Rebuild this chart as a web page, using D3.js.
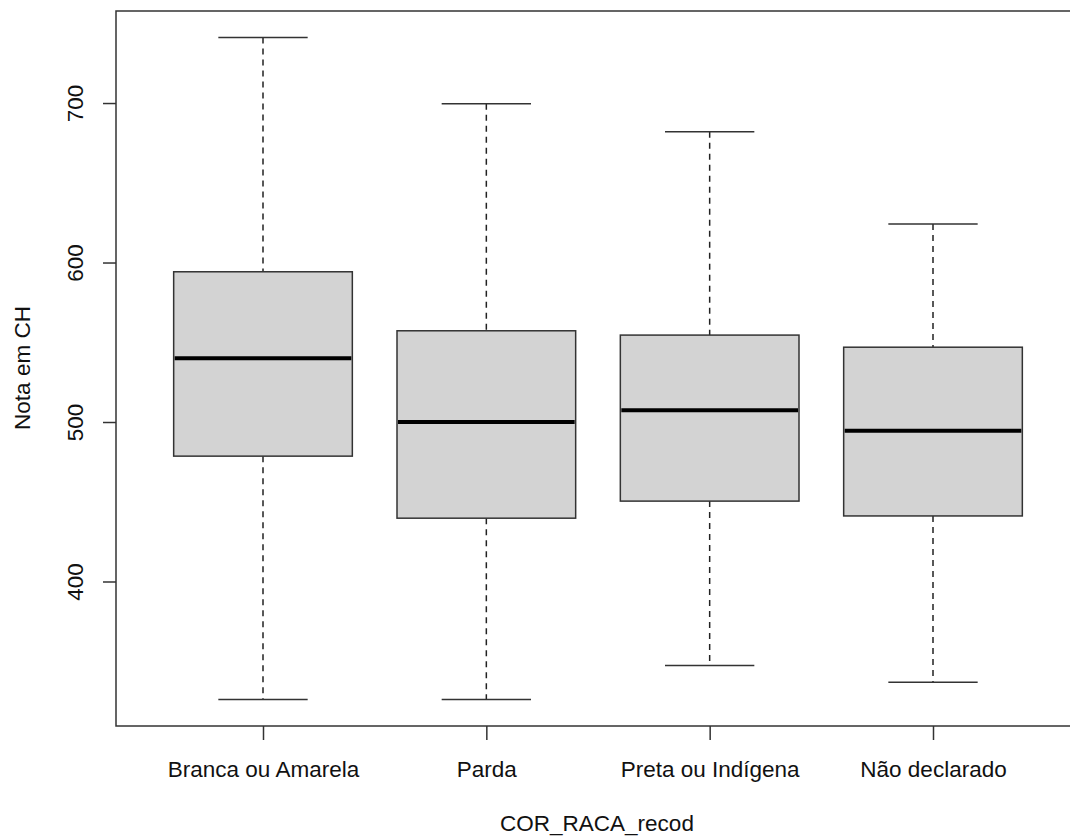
<!DOCTYPE html>
<html>
<head>
<meta charset="utf-8">
<script src="https://cdn.jsdelivr.net/npm/d3@7"></script>
<style>
  html, body { margin: 0; padding: 0; background: #fff; }
  svg { display: block; }
  text { font-family: "Liberation Sans", Arial, sans-serif; fill: #111; }
</style>
</head>
<body>
<svg id="chart" width="1070" height="837"></svg>
<script>
// Five-number summaries of the CH score by recoded race group
const categories = ["Branca ou Amarela", "Parda", "Preta ou Indígena", "Não declarado"];
const whiskerLow  = [326.0, 326.0, 347.3, 336.9];
const q1          = [478.6, 439.7, 450.4, 441.1];
const medians     = [540.0, 500.0, 507.4, 494.5];
const q3          = [594.2, 557.2, 554.5, 546.9];
const whiskerHigh = [741.1, 699.5, 682.0, 624.2];
const yTicks = [400, 500, 600, 700];

const xTitle = "COR_RACA_recod";
const yTitle = "Nota em CH";

const boxes = categories.map((c, i) => ({
  name: c, idx: i + 1,
  lo: whiskerLow[i], q1: q1[i], med: medians[i], q3: q3[i], hi: whiskerHigh[i]
}));

const svg = d3.select("#chart");
const plot = { left: 116, right: 1080, top: 11, bottom: 726 };
const fontSize = 22.5;

// R-style padding: data range plus 4% on each side
const yMin = d3.min(whiskerLow), yMax = d3.max(whiskerHigh);
const pad = (yMax - yMin) * 0.04;
const y = d3.scaleLinear().domain([yMin - pad, yMax + pad]).range([plot.bottom, plot.top]);
const x = d3.scaleLinear().domain([1, categories.length]).range([263, 933]);
const unit = x(2) - x(1);
const boxW = unit * 0.8;
const capW = boxW * 0.5;

const stroke = "#333";

// whiskers (dashed), caps, boxes and medians
const g = svg.append("g");
boxes.forEach(b => {
  const cx = x(b.idx);
  g.append("line").attr("x1", cx).attr("x2", cx).attr("y1", y(b.hi)).attr("y2", y(b.q3))
    .attr("stroke", "#222").attr("stroke-width", 1.5).attr("stroke-dasharray", "6,5");
  g.append("line").attr("x1", cx).attr("x2", cx).attr("y1", y(b.q1)).attr("y2", y(b.lo))
    .attr("stroke", "#222").attr("stroke-width", 1.5).attr("stroke-dasharray", "6,5");
  g.append("line").attr("x1", cx - capW / 2).attr("x2", cx + capW / 2).attr("y1", y(b.hi)).attr("y2", y(b.hi))
    .attr("stroke", stroke).attr("stroke-width", 1.5);
  g.append("line").attr("x1", cx - capW / 2).attr("x2", cx + capW / 2).attr("y1", y(b.lo)).attr("y2", y(b.lo))
    .attr("stroke", stroke).attr("stroke-width", 1.5);
  g.append("rect").attr("x", cx - boxW / 2).attr("width", boxW)
    .attr("y", y(b.q3)).attr("height", y(b.q1) - y(b.q3))
    .attr("fill", "#d3d3d3").attr("stroke", stroke).attr("stroke-width", 1.5);
  g.append("line").attr("x1", cx - boxW / 2 + 1).attr("x2", cx + boxW / 2 - 1).attr("y1", y(b.med)).attr("y2", y(b.med))
    .attr("stroke", "#000").attr("stroke-width", 4);
});

// plot frame
svg.append("rect").attr("x", plot.left).attr("y", plot.top)
  .attr("width", plot.right - plot.left).attr("height", plot.bottom - plot.top)
  .attr("fill", "none").attr("stroke", stroke).attr("stroke-width", 1.5);

// y axis with labels rotated parallel to the axis
const yAxis = svg.append("g").attr("transform", `translate(${plot.left},0)`)
  .call(d3.axisLeft(y).tickValues(yTicks).tickSize(13).tickFormat(d3.format("d")));
yAxis.select(".domain").remove();
yAxis.selectAll(".tick line").attr("stroke", stroke).attr("stroke-width", 1.5);
yAxis.selectAll(".tick text")
  .attr("x", 0).attr("y", 0).attr("dy", 0)
  .attr("text-anchor", "middle")
  .attr("font-size", fontSize)
  .attr("transform", "translate(-33,0) rotate(-90)");

// x axis
const xAxis = svg.append("g").attr("transform", `translate(0,${plot.bottom})`)
  .call(d3.axisBottom(x).tickValues(boxes.map(b => b.idx)).tickSize(14)
    .tickFormat(d => categories[d - 1]));
xAxis.select(".domain").remove();
xAxis.selectAll(".tick line").attr("stroke", stroke).attr("stroke-width", 1.5);
xAxis.selectAll(".tick text").attr("y", 51).attr("dy", 0).attr("font-size", fontSize);

// axis titles
svg.append("text").attr("x", 597).attr("y", 831).attr("text-anchor", "middle")
  .attr("font-size", fontSize).text(xTitle);
svg.append("text").attr("transform", "translate(30,368) rotate(-90)").attr("text-anchor", "middle")
  .attr("font-size", fontSize).text(yTitle);
</script>
</body>
</html>
